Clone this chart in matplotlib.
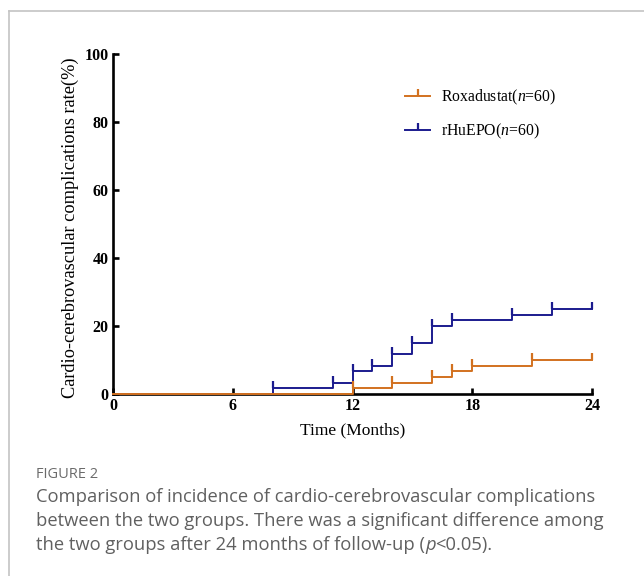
import matplotlib
matplotlib.use("Agg")
import matplotlib.pyplot as plt
from matplotlib.lines import Line2D
from matplotlib.path import Path

# Kaplan-Meier style cumulative incidence (%)
rox_time = [0, 12, 14, 16, 17, 18, 21, 24]
rox_rate = [0, 1.67, 3.33, 5.0, 6.67, 8.33, 10.0, 10.0]
epo_time = [0, 8, 11, 12, 13, 14, 15, 16, 17, 20, 22, 24]
epo_rate = [0, 1.67, 3.33, 6.67, 8.33, 11.67, 15.0, 20.0, 21.67, 23.33, 25.0, 25.0]

x_ticks = [0, 6, 12, 18, 24]
y_ticks = [0, 20, 40, 60, 80, 100]

ORANGE = "#D2711F"
BLUE = "#1B1B8E"
SERIF = "Liberation Serif"
SANS = "Open Sans"
CAP_COLOR = "#606060"

plt.rcParams["mathtext.fontset"] = "custom"
plt.rcParams["mathtext.rm"] = SERIF
plt.rcParams["mathtext.it"] = SERIF + ":italic"

# censor tick pointing up from the line
tick_up = Path([(0, 0), (0, 1)])

fig = plt.figure(figsize=(6.44, 5.76), dpi=100)

# outer panel border (top + left)
W, H = 644, 576
fig.add_artist(Line2D([9 / W, 1], [1 - 11 / H, 1 - 11 / H], color="#c4c4c4", lw=1.2))
fig.add_artist(Line2D([9 / W, 9 / W], [0, 1 - 11 / H], color="#c4c4c4", lw=1.2))

ax = fig.add_axes([113 / W, 1 - 394 / H, 479 / W, 340 / H])

for t, r, c in [(epo_time, epo_rate, BLUE), (rox_time, rox_rate, ORANGE)]:
    ax.step(t, r, where="post", color=c, lw=1.4, zorder=5, clip_on=False)
    ax.plot(t[1:], r[1:], ls="none", marker=tick_up, ms=10, mew=1.6,
            mec=c, zorder=5, clip_on=False)

ax.set_xlim(0, 24)
ax.set_ylim(0, 100)
ax.set_xticks(x_ticks)
ax.set_yticks(y_ticks)
for s in ["top", "right"]:
    ax.spines[s].set_visible(False)
for s in ["left", "bottom"]:
    ax.spines[s].set_linewidth(1.9)
ax.tick_params(direction="in", length=4.5, width=1.9, pad=3)
for lab in ax.get_xticklabels() + ax.get_yticklabels():
    lab.set_fontfamily(SERIF)
    lab.set_fontweight("bold")
    lab.set_fontsize(11.5)

ax.set_xlabel("Time (Months)", fontfamily=SERIF, fontsize=12.5, labelpad=6)
ax.set_ylabel("Cardio-cerebrovascular complications rate(%)",
              fontfamily=SERIF, fontsize=13.2)
ax.yaxis.set_label_coords(-0.071, 0.488)

handles = [
    Line2D([], [], color=ORANGE, lw=1.4, marker=tick_up, ms=10, mew=1.6, mec=ORANGE),
    Line2D([], [], color=BLUE, lw=1.4, marker=tick_up, ms=10, mew=1.6, mec=BLUE),
]
labels = [r"Roxadustat($\it{n}$=60)", r"rHuEPO($\it{n}$=60)"]
ax.legend(handles, labels, loc="upper left", bbox_to_anchor=(0.58, 0.942),
          frameon=False, numpoints=1, handlelength=1.6, handletextpad=0.7,
          labelspacing=0.95, prop={"family": SERIF, "size": 11.3})

# caption
fig.text(36 / W, 1 - 474 / H, "FIGURE 2", fontfamily=SANS, fontsize=10.5,
         color="#6b6b6b", va="center")
cap_lines = [
    "Comparison of incidence of cardio-cerebrovascular complications",
    "between the two groups. There was a significant difference among",
]
cap_y = [497, 521, 545]
CAP_SIZE = 13.25
for txt, y in zip(cap_lines, cap_y):
    fig.text(36 / W, 1 - y / H, txt, fontfamily=SANS, fontsize=CAP_SIZE,
             color=CAP_COLOR, va="center")

# last line has an italic p
renderer = fig.canvas.get_renderer()
x0 = 36 / W
for part, style in [("the two groups after 24 months of follow-up (", "normal"),
                    ("p", "italic"), ("<0.05).", "normal")]:
    t = fig.text(x0, 1 - cap_y[2] / H, part, fontfamily=SANS, fontsize=CAP_SIZE,
                 color=CAP_COLOR, va="center", style=style)
    bb = t.get_window_extent(renderer)
    x0 = bb.x1 / W

fig.savefig("out.png", dpi=100)
